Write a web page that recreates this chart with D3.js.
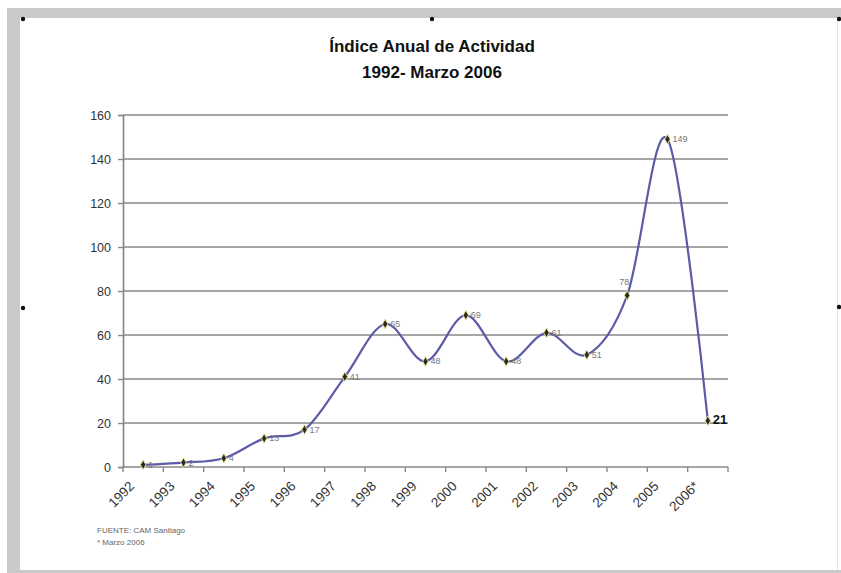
<!DOCTYPE html>
<html>
<head>
<meta charset="utf-8">
<script src="https://cdn.jsdelivr.net/npm/d3@7"></script>
<style>
  html, body { margin: 0; padding: 0; background: #fff; }
  svg { display: block; font-family: "Liberation Sans", Arial, sans-serif; }
</style>
</head>
<body>
<svg id="chart" width="841" height="573"></svg>
<script>
// Annual activity index, 1992 to March 2006
const years = ["1992", "1993", "1994", "1995", "1996", "1997", "1998", "1999",
               "2000", "2001", "2002", "2003", "2004", "2005", "2006*"];
const values = [1, 2, 4, 13, 17, 41, 65, 48, 69, 48, 61, 51, 78, 149, 21];
const yTicks = [0, 20, 40, 60, 80, 100, 120, 140, 160];
const titleLines = ["Índice Anual de Actividad", "1992- Marzo 2006"];
const notes = ["FUENTE: CAM Santiago", "* Marzo 2006"];

const svg = d3.select("#chart");

// Window frame around the chart area
svg.append("rect").attr("x", 7).attr("y", 8).attr("width", 834).attr("height", 10).attr("fill", "#c9c9c9");
svg.append("rect").attr("x", 7).attr("y", 8).attr("width", 13).attr("height", 565).attr("fill", "#cacaca");
svg.append("rect").attr("x", 7).attr("y", 570).attr("width", 834).attr("height", 3).attr("fill", "#c9c9c9");
svg.append("rect").attr("x", 837).attr("y", 18).attr("width", 1).attr("height", 552).attr("fill", "#e4e4e4");

// Selection handles
const handles = [[23, 19], [432, 19], [839, 19], [23, 308], [839, 307]];
svg.selectAll("circle.handle").data(handles).join("circle")
  .attr("class", "handle")
  .attr("cx", d => d[0]).attr("cy", d => d[1]).attr("r", 2.2)
  .attr("fill", "#111");

const x = d3.scaleBand().domain(years).range([123, 728]).padding(0);
const y = d3.scaleLinear().domain([0, 160]).range([467, 115]);

// Title
svg.selectAll("text.title").data(titleLines).join("text")
  .attr("class", "title")
  .attr("x", 432).attr("y", (d, i) => 52 + i * 26)
  .attr("text-anchor", "middle")
  .attr("font-size", 17).attr("font-weight", "bold").attr("fill", "#111")
  .text(d => d);

// Horizontal gridlines
svg.selectAll("line.grid").data(yTicks.filter(d => d > 0)).join("line")
  .attr("class", "grid")
  .attr("x1", 123).attr("x2", 728)
  .attr("y1", d => y(d)).attr("y2", d => y(d))
  .attr("stroke", "#888").attr("stroke-width", 1.7);

// Y axis
const yAxis = svg.append("g").attr("transform", "translate(123,0)")
  .call(d3.axisLeft(y).tickValues(yTicks).tickSize(5).tickPadding(7));
yAxis.select(".domain").attr("stroke", "#888").attr("stroke-width", 1.7);
yAxis.selectAll(".tick line").attr("stroke", "#888").attr("stroke-width", 1.4);
yAxis.selectAll(".tick text").attr("font-size", 12.5).attr("fill", "#333")
  .attr("font-family", "Liberation Sans, Arial, sans-serif");

// X axis with ticks on band boundaries
const xAxisG = svg.append("g").attr("transform", "translate(0,467)");
xAxisG.append("line").attr("x1", 123).attr("x2", 728).attr("y1", 0).attr("y2", 0)
  .attr("stroke", "#888").attr("stroke-width", 1.7);
const boundaries = years.map(d => x(d)).concat([x(years[years.length - 1]) + x.bandwidth()]);
xAxisG.selectAll("line.tick").data(boundaries).join("line")
  .attr("class", "tick")
  .attr("x1", d => d).attr("x2", d => d).attr("y1", 0).attr("y2", 5)
  .attr("stroke", "#888").attr("stroke-width", 1.4);
xAxisG.selectAll("text.xlab").data(years).join("text")
  .attr("class", "xlab")
  .attr("text-anchor", "end")
  .attr("font-size", 13.5).attr("fill", "#333")
  .attr("transform", d => `translate(${x(d) + x.bandwidth() / 2 - 8},${20}) rotate(-45)`)
  .text(d => d);

// Smoothed series line
const pts = years.map((d, i) => ({ year: d, v: values[i] }));
const line = d3.line()
  .x(d => x(d.year) + x.bandwidth() / 2)
  .y(d => y(d.v))
  .curve(d3.curveCatmullRom.alpha(0));
svg.append("path").datum(pts)
  .attr("d", line)
  .attr("fill", "none").attr("stroke", "#5b5ba8").attr("stroke-width", 2.2);

// Diamond markers
const diamond = d3.symbol().type(d3.symbolDiamond).size(26);
svg.selectAll("path.marker").data(pts).join("path")
  .attr("class", "marker")
  .attr("d", diamond)
  .attr("transform", d => `translate(${x(d.year) + x.bandwidth() / 2},${y(d.v)})`)
  .attr("fill", "#2a2a20").attr("stroke", "#e2e08a").attr("stroke-width", 1);

// Value labels
const last = years.length - 1;
svg.selectAll("text.val").data(pts).join("text")
  .attr("class", "val")
  .attr("x", d => {
    const cx = x(d.year) + x.bandwidth() / 2;
    return d.year === "2004" ? cx - 8 : cx + 5;
  })
  .attr("y", d => {
    const cy = y(d.v);
    return d.year === "2004" ? cy - 10 : cy + 3;
  })
  .attr("font-size", (d, i) => i === last ? 13 : 9)
  .attr("font-weight", (d, i) => i === last ? "bold" : "normal")
  .attr("fill", (d, i) => i === last ? "#111" : "#777")
  .text(d => d.v);

// Source notes
svg.selectAll("text.note").data(notes).join("text")
  .attr("class", "note")
  .attr("x", 97).attr("y", (d, i) => 533 + i * 12)
  .attr("font-size", 8).attr("fill", "#666")
  .text(d => d);
</script>
</body>
</html>
